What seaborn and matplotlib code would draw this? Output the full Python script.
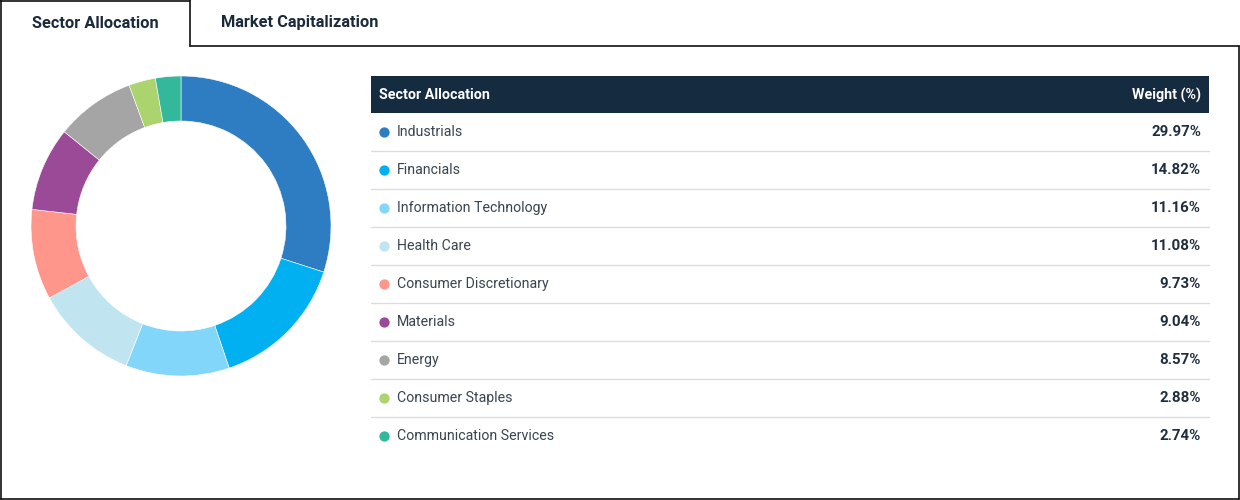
import matplotlib
matplotlib.use("Agg")
import matplotlib.pyplot as plt
import seaborn as sns

# sector weights as shown in the table
sectors = ["Industrials", "Financials", "Information Technology", "Health Care",
           "Consumer Discretionary", "Materials", "Energy", "Consumer Staples",
           "Communication Services"]
weights = [29.97, 14.82, 11.16, 11.08, 9.73, 9.04, 8.57, 2.88, 2.74]
colors = ["#2e7cc1", "#00b0f0", "#82d6f9", "#c0e5f1", "#ff968c",
          "#9b4a98", "#a5a5a5", "#abd36e", "#33b89c"]
tabs = ["Sector Allocation", "Market Capitalization"]
header = ["Sector Allocation", "Weight (%)"]

sns.set_theme(style="white")
plt.rcParams["font.family"] = ["Roboto", "DejaVu Sans"]

W, H = 1240, 500
fig = plt.figure(figsize=(W / 100, H / 100), dpi=100)

# overlay axes in pixel coordinates for tabs / table
ov = fig.add_axes([0, 0, 1, 1])
ov.set_xlim(0, W)
ov.set_ylim(H, 0)
ov.axis("off")

navy = "#152b3f"
line_kw = dict(color="#111111", lw=1.2)

# tab + panel borders
ov.plot([0.5, 0.5], [0, H - 1.5], **line_kw)
ov.plot([0, 189.5], [0.8, 0.8], **line_kw)
ov.plot([189.5, 189.5], [0, 45.5], **line_kw)
ov.plot([189.5, W - 1.5], [45.5, 45.5], **line_kw)
ov.plot([W - 1.5, W - 1.5], [45.5, H - 1.5], **line_kw)
ov.plot([0, W - 1.5], [H - 1.5, H - 1.5], **line_kw)

ov.text(95, 23, tabs[0], ha="center", va="center", fontsize=11.8, fontweight="bold", color="#1b2a3a")
ov.text(300, 23, tabs[1], ha="center", va="center", fontsize=11.8, fontweight="bold", color="#1b2a3a")

# table header
x0, x1 = 371, 1209
ov.fill_between([x0, x1], 76, 113, color=navy, lw=0)
ov.text(379, 95, header[0], ha="left", va="center", fontsize=10.3, fontweight="bold", color="white")
ov.text(1201, 95, header[1], ha="right", va="center", fontsize=10.3, fontweight="bold", color="white")

row_h = 38
for i, (name, w, c) in enumerate(zip(sectors, weights, colors)):
    yc = 132 + i * row_h
    ov.scatter([384], [yc], s=55, color=c, lw=0)
    ov.text(397, yc, name, ha="left", va="center", fontsize=10.2, color="#3a4451")
    ov.text(1201, yc, f"{w:.2f}%", ha="right", va="center", fontsize=10.8,
            fontweight="bold", color="#1f2d3d")
    if i < len(sectors) - 1:
        ov.plot([x0, x1], [yc + 18.5, yc + 18.5], color="#dddddd", lw=1)

# donut
ax = fig.add_axes([31 / W, (H - 376) / H, 300 / W, 300 / H])
ax.pie(weights, colors=colors, startangle=90, counterclock=False,
       wedgeprops=dict(width=0.3, edgecolor="white", linewidth=0.4))
ax.set_xlim(-1, 1)
ax.set_ylim(-1, 1)
ax.set_aspect("equal")

fig.savefig("out.png", dpi=100)
plt.close(fig)
